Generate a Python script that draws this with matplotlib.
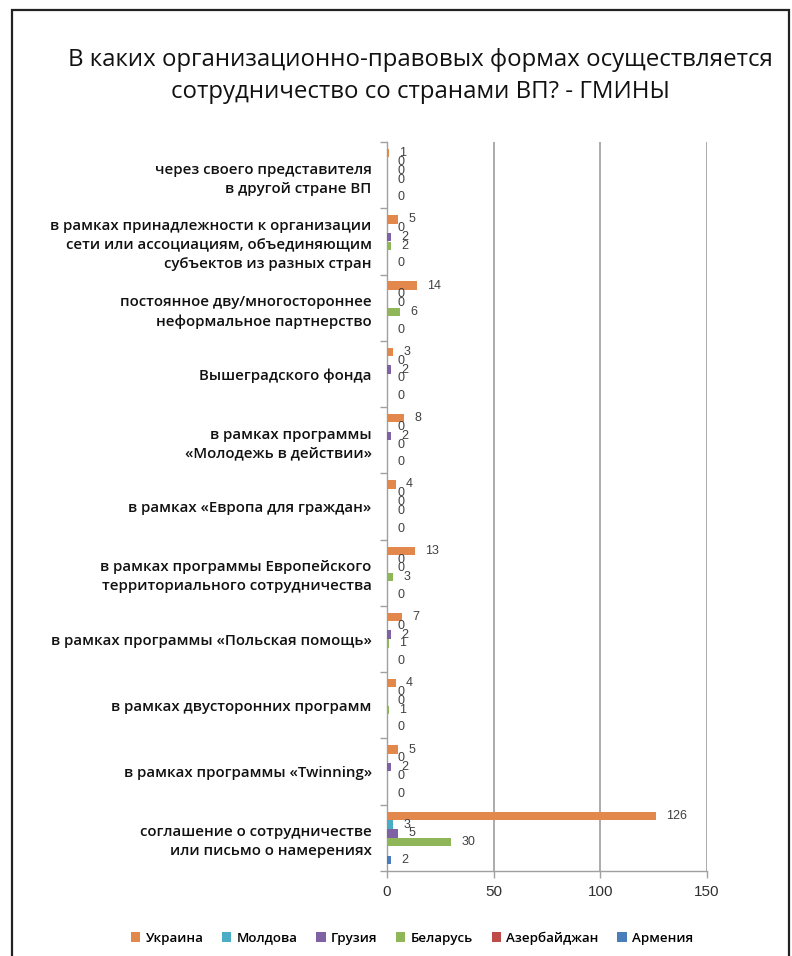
import numpy as np
import matplotlib
matplotlib.use("Agg")
import matplotlib.pyplot as plt
from matplotlib.patches import Rectangle

plt.rcParams['font.family'] = ['Open Sans', 'DejaVu Sans']

categories = [
    "через своего представителя\nв другой стране ВП",
    "в рамках принадлежности к организации\nсети или ассоциациям, объединяющим\nсубъектов из разных стран",
    "постоянное дву/многостороннее\nнеформальное партнерство",
    "Вышеградского фонда",
    "в рамках программы\n«Молодежь в действии»",
    "в рамках «Европа для граждан»",
    "в рамках программы Европейского\nтерриториального сотрудничества",
    "в рамках программы «Польская помощь»",
    "в рамках двусторонних программ",
    "в рамках программы «Twinning»",
    "соглашение о сотрудничестве\nили письмо о намерениях",
]

series_names = ["Украина", "Молдова", "Грузия", "Беларусь", "Азербайджан", "Армения"]
ukraine    = [1, 5, 14, 3, 8, 4, 13, 7, 4, 5, 126]
moldova    = [0, 0, 0, 0, 0, 0, 0, 0, 0, 0, 3]
georgia    = [0, 2, 0, 2, 2, 0, 0, 2, 0, 2, 5]
belarus    = [0, 2, 6, 0, 0, 0, 3, 1, 1, 0, 30]
azerbaijan = [np.nan] * 11
armenia    = [0, 0, 0, 0, 0, 0, 0, 0, 0, 0, 2]
colors = ["#E2884C", "#4BACC6", "#7F62A3", "#8FB75A", "#BE4B48", "#4A7EBB"]

all_series = [ukraine, moldova, georgia, belarus, azerbaijan, armenia]

fig = plt.figure(figsize=(7.92, 9.56), dpi=100)
ax = fig.add_axes([387/792, 1 - 871/956, (707 - 387)/792, (871 - 142)/956])

y = np.arange(len(categories))
slot = 0.133
for i, (vals, name, c) in enumerate(zip(all_series, series_names, colors)):
    v = np.array(vals, dtype=float)
    pos = y + (i - 2.5) * slot
    ax.barh(pos, np.nan_to_num(v), height=slot * 0.95, color=c, label=name, zorder=3)
    for p, val in zip(pos, v):
        if np.isnan(val):
            continue
        ax.annotate(f"{int(val)}", xy=(val, p), xytext=(7.5, 0), textcoords="offset points",
                    ha="left", va="center", fontsize=9, color="#404040",
                    family=["Liberation Sans", "DejaVu Sans"])

ax.set_xlim(0, 150)
ax.set_ylim(len(categories) - 0.5, -0.5)
ax.set_xticks([0, 50, 100, 150])
ax.xaxis.grid(True, color="#ABABAB", linewidth=1.4, zorder=0)
ax.tick_params(axis="x", colors="#A0A0A0", length=5, width=1.0, labelcolor="#303030",
               labelsize=11, pad=5)
for lbl in ax.get_xticklabels():
    lbl.set_family(["Liberation Sans", "DejaVu Sans"])

# category boundaries as ticks, labels as minor
ax.set_yticks(np.arange(-0.5, len(categories), 1.0))
ax.set_yticklabels([])
ax.tick_params(axis="y", which="major", colors="#A0A0A0", length=5, width=1.0)
ax.set_yticks(y, minor=True)
ax.set_yticklabels(categories, minor=True, fontsize=10.8, fontweight="semibold",
                   color="#111111", multialignment="right", linespacing=1.45)
ax.tick_params(axis="y", which="minor", length=0, pad=11)

for s in ["top", "right"]:
    ax.spines[s].set_visible(False)
for s in ["left", "bottom"]:
    ax.spines[s].set_color("#A0A0A0")
    ax.spines[s].set_linewidth(1.0)

fig.text(420/792, 1 - 76/956,
         "В каких организационно-правовых формах осуществляется\nсотрудничество со странами ВП? - ГМИНЫ",
         ha="center", va="center", fontsize=17.3, color="#111111", linespacing=1.4)

handles, labels = ax.get_legend_handles_labels()
fig.legend(handles, labels, loc="center", bbox_to_anchor=(412/792, 1 - 938/956), ncol=6,
           frameon=False, handlelength=0.7, handleheight=0.7, handletextpad=0.4,
           columnspacing=1.4, prop={"size": 9.6, "weight": "semibold"})

fig.patches.append(Rectangle((12/792, -0.02), (789 - 12)/792, 1 - 10/956 + 0.02,
                             transform=fig.transFigure, fill=False, edgecolor="#222222",
                             linewidth=1.6))

fig.savefig("out.png", dpi=100, facecolor="white")
